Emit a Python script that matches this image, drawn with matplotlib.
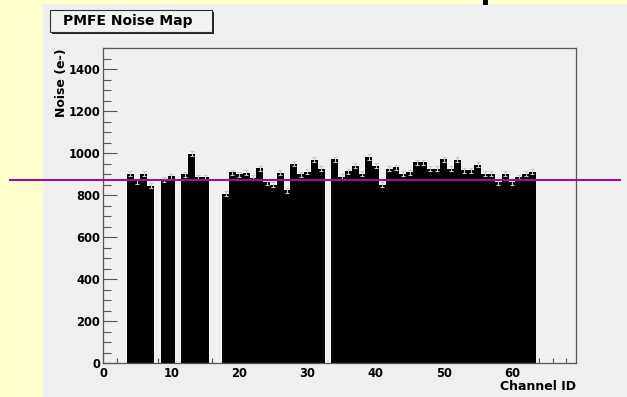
import numpy as np
import matplotlib.pyplot as plt
from matplotlib.patches import Rectangle
from matplotlib.lines import Line2D
from matplotlib.ticker import MultipleLocator

# channel id -> noise (e-)
channels = [4, 5, 6, 7, 9, 10, 12, 13, 14, 15,
            18, 19, 20, 21, 22, 23, 24, 25, 26, 27, 28, 29, 30, 31, 32,
            34, 35, 36, 37, 38, 39, 40, 41, 42, 43, 44, 45, 46, 47, 48,
            49, 50, 51, 52, 53, 54, 55, 56, 57, 58, 59, 60, 61, 62, 63]
noise = [901, 865, 901, 844, 876, 889, 898, 997, 884, 884,
         806, 908, 898, 906, 882, 928, 860, 849, 906, 822, 949, 898, 910, 968, 924,
         971, 888, 912, 939, 901, 981, 939, 849, 924, 932, 901, 908, 955, 955, 924,
         924, 971, 924, 968, 917, 917, 944, 901, 901, 862, 901, 862, 884, 901, 910]
noise_err = 12
mean_level = 871

W, H = 627, 397
fig = plt.figure(figsize=(W / 100, H / 100), dpi=100, facecolor='#ffffcc')

def fx(px):
    return px / W

def fy(py):
    return 1 - py / H

# grey canvas
fig.patches.append(Rectangle((fx(43), 0), 1 - fx(43), fy(4), transform=fig.transFigure,
                             facecolor='#efefef', edgecolor='none', zorder=-2))
# bit of cut-off text above the canvas
fig.patches.append(Rectangle((fx(483), fy(5)), fx(5), 5 / H, transform=fig.transFigure,
                             facecolor='black', edgecolor='none', zorder=-1))

ax = fig.add_axes([fx(103), fy(363), fx(576) - fx(103), fy(48) - fy(363)])
ax.set_zorder(1)
ax.set_facecolor('#f0f0f0')
ax.bar(channels, noise, width=1.0, color='black', linewidth=0, zorder=2)
ax.errorbar(channels, noise, yerr=noise_err, fmt='none', ecolor='#c8c8c8',
            elinewidth=0.8, capsize=1.5, capthick=0.8, zorder=3)

ax.set_xlim(0, 69.4)
ax.set_ylim(0, 1500)
ax.xaxis.set_major_locator(MultipleLocator(10))
ax.xaxis.set_minor_locator(MultipleLocator(2))
ax.yaxis.set_major_locator(MultipleLocator(200))
ax.yaxis.set_minor_locator(MultipleLocator(50))
ax.tick_params(which='both', direction='in', color='#555555', width=0.8)
ax.tick_params(axis='y', which='major', length=10, pad=2)
ax.tick_params(axis='y', which='minor', length=5.5)
ax.tick_params(axis='x', which='major', length=7, pad=3)
ax.tick_params(axis='x', which='minor', length=3.5)
for lab in ax.get_xticklabels() + ax.get_yticklabels():
    lab.set_fontweight('bold')
    lab.set_fontsize(8.3)
for s in ax.spines.values():
    s.set_color('#555555')
    s.set_linewidth(0.9)

fig.text(fx(576), fy(387), 'Channel ID', ha='right', va='center',
         fontsize=9, fontweight='bold')
fig.text(fx(61), fy(48), 'Noise (e-)', ha='center', va='top', rotation=90,
         fontsize=9, fontweight='bold')

# title box with shadow
fig.patches.append(Rectangle((fx(52), fy(34)), fx(162), 22 / H, transform=fig.transFigure,
                             facecolor='#222222', edgecolor='none', zorder=2))
fig.patches.append(Rectangle((fx(50), fy(32)), fx(162), 22 / H, transform=fig.transFigure,
                             facecolor='#f2f2f2', edgecolor='#333333', linewidth=0.8, zorder=3))
fig.text(fx(63), fy(21.5), 'PMFE Noise Map', ha='left', va='center',
         fontsize=10, fontweight='bold', zorder=4)

# purple reference line across the picture
y_line = ax.transData.transform((0, mean_level))[1] / fig.bbox.height
fig.lines.append(Line2D([fx(10), fx(620)], [y_line, y_line], transform=fig.transFigure,
                        color='#9b109b', linewidth=1.5, zorder=5))

fig.savefig('out.png', dpi=100, facecolor=fig.get_facecolor())
